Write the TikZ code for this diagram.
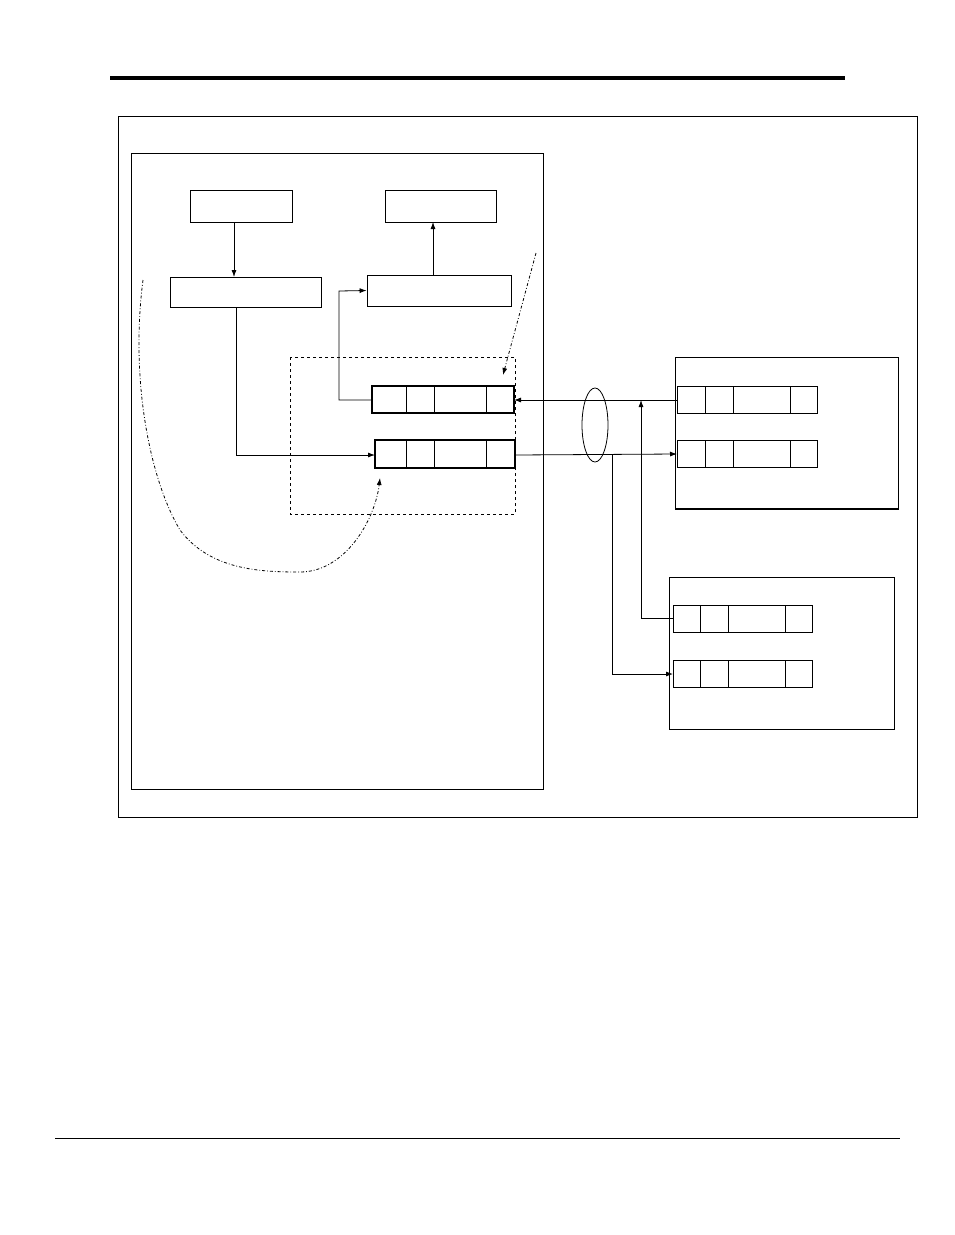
\documentclass[tikz,border=0pt]{standalone}
\usetikzlibrary{arrows.meta,shapes.geometric}
\begin{document}
\begin{tikzpicture}[x=1pt,y=-1pt,line width=0.8pt,
  box/.style={draw,minimum width=0pt},
  arr/.style={-{Latex[length=7pt,width=5pt]}},
  dd/.style={dash dot,line width=0.8pt}]
\useasboundingbox (0,0) rectangle (954,1235);
\fill[white] (0,0) rectangle (954,1235);
\draw[line width=3.5pt] (110,78) -- (845,78);
\draw[line width=0.6pt] (55,1138) -- (900,1138);
\draw (118,116) rectangle (917,817);
\draw (131,153) rectangle (543,789);
\node[box,minimum width=102pt,minimum height=32pt,inner sep=0] (A) at (241,206) {};
\node[box,minimum width=111pt,minimum height=32pt,inner sep=0] (B) at (440.5,206) {};
\node[box,minimum width=151pt,minimum height=30pt,inner sep=0] (C) at (245.5,292) {};
\node[box,minimum width=144pt,minimum height=31pt,inner sep=0] (D) at (439,290.5) {};
\draw[arr] (234,222) -- (234,277);
\draw[arr] (433,275) -- (433,222);
\draw[dashed,line width=0.6pt] (290,357) rectangle (515,514);
% row boxes
\draw[line width=1.3pt] (372,386) rectangle (514,413);
\draw (406,386)--(406,413) (434,386)--(434,413) (486,386)--(486,413);
\coordinate (r1l) at (372,400); \coordinate (r1r) at (514,400);
\draw[line width=1.1pt] (375,440) rectangle (515,468);
\draw (406,440)--(406,468) (434,440)--(434,468) (486,440)--(486,468);
\coordinate (r2l) at (375,455); \coordinate (r2r) at (515,455);
\draw (675,357) rectangle (898,509);
\draw[line width=1.3pt] (675,509)--(898,509);
\draw (677,386) rectangle (817,413);
\draw (705,386)--(705,413) (733,386)--(733,413) (790,386)--(790,413);
\draw (677,440) rectangle (817,467);
\draw (705,440)--(705,467) (733,440)--(733,467) (790,440)--(790,467);
\coordinate (p1l) at (677,400); \coordinate (p2l) at (677,454);
\draw (669,577) rectangle (894,729);
\draw (673,605) rectangle (812,632);
\draw (700,605)--(700,632) (728,605)--(728,632) (785,605)--(785,632);
\draw (673,660) rectangle (812,687);
\draw (700,660)--(700,687) (728,660)--(728,687) (785,660)--(785,687);
\coordinate (q1l) at (673,618); \coordinate (q2l) at (673,674);
% connectors
\draw[arr] (236,307) -- (236,455) -- (r2l);
\draw[arr] (r1l) -- (339,400) -- (339,291) -- (D.west);
\draw[arr] (p1l) -- (r1r);
\draw[arr] (r2r) -- (p2l);
\draw[arr] (612,455) -- (612,674) -- (q2l);
\draw[arr] (q1l) -- (641,618) -- (641,400);
\node[draw,ellipse,minimum width=26pt,minimum height=74pt,inner sep=0] (E) at (595,425) {};
\draw[dd,-{Latex[length=7pt,width=5pt]}] (143,280) .. controls (130,380) and (150,480) .. (180,530)
  .. controls (210,570) and (260,572) .. (300,572) .. controls (345,572) and (375,520) .. (380,478);
\draw[dd,-{Latex[length=7pt,width=5pt]}] (536,253) -- (503,375);
\end{tikzpicture}
\end{document}
